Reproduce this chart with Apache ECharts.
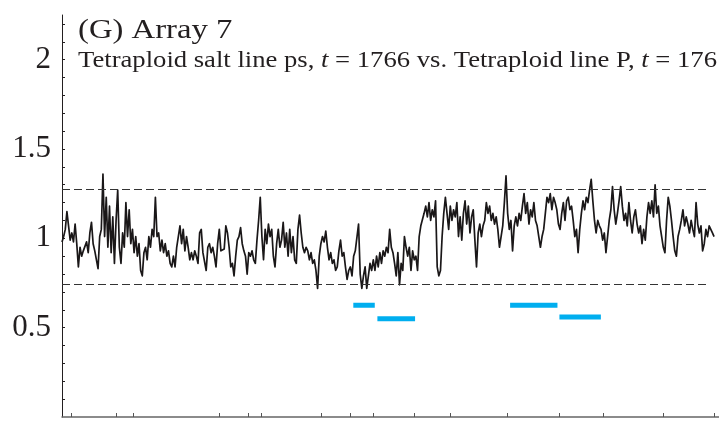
<!DOCTYPE html>
<html>
<head>
<meta charset="utf-8">
<script src="https://cdn.jsdelivr.net/npm/echarts@6/dist/echarts.min.js"></script>
<style>
  html, body { margin: 0; padding: 0; background: #fff; }
  #chart { width: 719px; height: 423px; }
</style>
</head>
<body>
<div id="chart"></div>
<script>
// log2 ratio trace, probes in array order
const ratio = [
  0.98, 1.01, 1.05, 1.15, 1.07, 0.99, 1.03, 0.98, 1.08, 0.97, 0.84, 0.95, 0.90, 0.93, 0.92, 0.98, 0.92, 1.03, 1.09, 0.97,
  0.93, 0.92, 0.83, 1.01, 1.05, 1.36, 1.01, 1.23, 0.95, 1.18, 0.92, 1.12, 0.86, 1.10, 1.27, 0.95, 0.86, 1.03, 0.95, 1.20,
  1.01, 1.16, 0.97, 1.05, 0.92, 1.01, 0.90, 0.97, 0.82, 0.79, 0.92, 0.95, 0.88, 1.01, 0.95, 1.05, 1.01, 1.23, 1.01, 1.03,
  0.93, 0.99, 0.92, 0.97, 0.90, 0.93, 0.86, 0.84, 0.90, 0.84, 0.95, 1.01, 1.07, 0.97, 1.05, 0.93, 1.01, 0.95, 0.88, 0.92,
  0.88, 0.93, 0.90, 0.86, 1.03, 1.05, 0.92, 0.93, 0.82, 0.95, 0.97, 0.92, 0.95, 0.90, 0.84, 0.97, 1.05, 0.93, 0.94,
  0.94, 1.07, 1.03, 0.95, 0.84, 0.86, 0.79, 0.90, 0.99, 1.01, 1.06, 0.97, 0.93, 0.90, 0.80, 0.92, 0.90, 0.93, 0.88, 0.86,
  0.99, 1.10, 1.23, 1.01, 0.88, 1.05, 0.97, 1.08, 1.01, 1.05, 0.90, 0.84, 0.97, 1.05, 0.95, 0.99, 1.09, 0.95, 1.03, 0.90,
  1.05, 0.92, 1.01, 0.88, 0.86, 1.05, 1.13, 1.03, 0.95, 0.92, 0.95, 0.93, 0.88, 0.92, 0.86, 0.88, 0.82, 0.72, 0.90, 0.97,
  1.01, 0.98, 1.04, 0.95, 0.88, 0.92, 0.86, 0.88, 0.82, 0.84, 0.93, 0.99, 0.90, 0.92, 0.84, 0.77, 0.82, 0.84, 0.79, 0.90,
  0.93, 0.92, 1.08, 0.80, 0.72, 0.79, 0.84, 0.72, 0.79, 0.86, 0.82, 0.88, 0.82, 0.90, 0.84, 0.92, 0.86, 0.93, 0.90, 0.95,
  0.92,
  1.05, 0.95, 0.92, 0.86, 0.79, 0.92, 0.74, 0.86, 0.82, 1.01, 0.95, 0.90, 0.95, 0.82, 0.93, 0.88, 0.90, 0.82, 1.01, 1.07,
  1.08, 1.14, 1.18, 1.12, 1.20, 1.10, 1.16, 1.12, 1.21, 0.84, 0.79, 0.82, 1.01, 1.14, 1.23, 1.14, 1.05, 1.18, 1.10, 1.16,
  1.12, 1.20, 1.01, 1.12, 0.99, 1.14, 1.21, 1.08, 1.18, 1.03, 1.12, 1.16, 0.99, 0.84, 1.03, 1.08, 1.01, 1.07, 1.10, 1.20,
  1.14, 1.18, 1.10, 1.14, 1.08, 1.12, 1.05, 0.95, 1.01, 1.07, 1.20, 1.35, 1.14, 1.05, 1.10, 0.93, 1.07, 1.12, 1.07, 1.14,
  1.10, 1.18, 1.25, 1.14, 1.20, 1.08, 1.16, 1.12, 1.20, 1.10, 1.07, 1.01, 0.95, 1.01, 1.05, 1.14, 1.23, 1.20, 1.25, 1.16,
  1.23, 1.20,
  1.16, 1.08, 1.05, 1.14, 1.20, 1.10, 1.21, 1.23, 1.16, 1.18, 1.10, 1.01, 1.05, 0.92, 1.05, 1.14, 1.21, 1.16, 1.23, 1.20,
  1.27, 1.33, 1.21, 1.10, 1.03, 1.10, 1.07, 1.05, 0.99, 1.03, 0.92, 1.01, 1.10, 1.16, 1.29, 1.16, 1.08, 1.14, 1.21, 1.29,
  1.18, 1.10, 1.14, 1.07, 1.20, 1.10, 1.03, 1.12, 1.16, 1.08, 1.03, 1.07, 0.97, 1.05, 0.99, 1.12, 1.20, 1.14, 1.21, 1.12,
  1.30, 1.14, 1.18, 1.07, 1.01, 0.95, 0.92, 1.10, 1.23, 1.18, 1.10, 1.01, 0.93, 0.90, 1.01, 1.05, 1.10, 1.16, 1.07, 1.12,
  1.08, 1.03, 1.10, 1.05, 1.01, 1.20, 1.08, 1.03, 1.07, 0.93, 0.97, 1.05, 1.01, 1.07, 1.08, 1.03, 1.01
];

// thresholds (dashed)
const upperCut = 1.275;
const lowerCut = 0.745;

// called segments: start, end (probe index), level
const segStart = [177.8, 192.5, 273.5, 303.6];
const segEnd = [190.9, 215.5, 302.4, 328.9];
const segLevel = [0.625, 0.550, 0.625, 0.560];

// chromosome boundary ticks (probe index)
const xTicks = [5.9, 33.4, 43.5, 95.8, 113.6, 121.9, 158.5, 175.8, 190.0, 215.1, 236.9, 271.5, 303.2, 330.1, 366.7, 398.2];
const yTicks = [0.1, 0.2, 0.3, 0.4, 0.5, 0.6, 0.7, 0.8, 0.9, 1.0, 1.1, 1.2, 1.3, 1.4, 1.5, 1.6, 1.7, 1.8, 1.9, 2.0, 2.1, 2.2];
const yLabels = [0.5, 1, 1.5, 2];

const xMax = 401;
const dashEnd = 393.8;

const ink = '#1a1718';
const serif = '"Liberation Serif", "Times New Roman", serif';

const chart = echarts.init(document.getElementById('chart'));

const series = [
  {
    type: 'line',
    data: ratio.map((v, i) => [i, v]),
    showSymbol: false,
    silent: true,
    lineStyle: { color: ink, width: 1.7, join: 'round' },
    markLine: {
      silent: true,
      symbol: 'none',
      label: { show: false },
      lineStyle: { color: '#333', width: 1, type: [8, 4] },
      data: [
        [{ coord: [0, upperCut] }, { coord: [dashEnd, upperCut] }],
        [{ coord: [0, lowerCut] }, { coord: [dashEnd, lowerCut] }]
      ]
    }
  }
];

for (let i = 0; i < segStart.length; i++) {
  series.push({
    type: 'line',
    data: [[segStart[i], segLevel[i]], [segEnd[i], segLevel[i]]],
    showSymbol: false,
    silent: true,
    lineStyle: { color: '#00aeef', width: 5, cap: 'butt' }
  });
}

const option = {
  animation: false,
  grid: { left: 62, right: 0, top: 15, bottom: 6 },
  xAxis: {
    type: 'value',
    min: 0,
    max: xMax,
    axisLine: { show: true, lineStyle: { color: '#666', width: 1.5 } },
    axisTick: { show: true, inside: true, length: 4, customValues: xTicks, lineStyle: { color: '#555' } },
    axisLabel: { show: false },
    splitLine: { show: false }
  },
  yAxis: {
    type: 'value',
    min: 0,
    max: 2.25,
    axisLine: { show: true, lineStyle: { color: '#231f20', width: 1 } },
    axisTick: { show: true, inside: true, length: 3, customValues: yTicks, lineStyle: { color: '#231f20' } },
    axisLabel: {
      customValues: yLabels,
      color: '#231f20',
      fontFamily: serif,
      fontSize: 31,
      margin: 11
    },
    splitLine: { show: false }
  },
  graphic: [
    {
      type: 'text',
      x: 78,
      y: 31,
      scaleX: 1.23,
      style: {
        text: '(G) Array 7',
        fill: '#231f20',
        fontFamily: serif,
        fontSize: 26.6,
        verticalAlign: 'middle'
      }
    },
    {
      type: 'text',
      x: 78,
      y: 61,
      scaleX: 1.11,
      style: {
        text: 'Tetraploid salt line ps, {i|t} = 1766 vs. Tetraploid line P, {i|t} = 176',
        fill: '#231f20',
        fontFamily: serif,
        fontSize: 24,
        verticalAlign: 'middle',
        rich: {
          i: { fontStyle: 'italic', fontFamily: serif, fontSize: 24, fill: '#231f20' }
        }
      }
    }
  ],
  series: series
};

chart.setOption(option);
</script>
</body>
</html>
